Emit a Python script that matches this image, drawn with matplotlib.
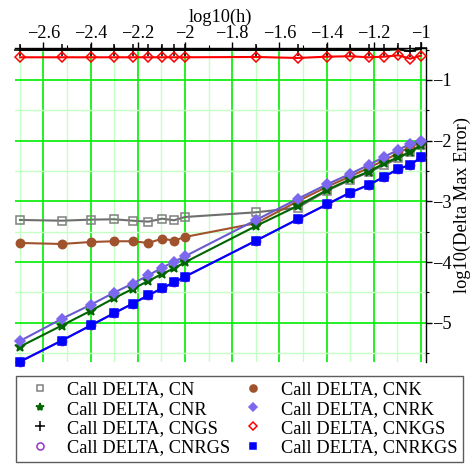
import matplotlib
matplotlib.use('Agg')
from matplotlib import pyplot as plt
from matplotlib.lines import Line2D
from matplotlib.ticker import MultipleLocator, FuncFormatter

plt.rcParams['font.family'] = ['Liberation Serif', 'DejaVu Serif']
plt.rcParams['font.size'] = 13.2

# log10(h)
log_h = [-2.699, -2.523, -2.398, -2.301, -2.222, -2.155, -2.097, -2.046, -2.0,
         -1.699, -1.523, -1.398, -1.301, -1.222, -1.155, -1.097, -1.046, -1.0]

# log10(Delta Max Error) per scheme
cn = [-3.307, -3.319, -3.302, -3.296, -3.319, -3.335, -3.286, -3.312, -3.258,
      -3.181, -3.104, -2.824, -2.648, -2.521, -2.400, -2.290, -2.180, -2.070]
cnk = [-3.686, -3.703, -3.670, -3.658, -3.658, -3.686, -3.615, -3.648, -3.587,
       -3.361, -3.000, -2.760, -2.590, -2.450, -2.320, -2.210, -2.100, -2.030]
cnr = [-5.395, -5.049, -4.802, -4.598, -4.444, -4.312, -4.197, -4.103, -4.004,
       -3.406, -3.076, -2.813, -2.637, -2.511, -2.373, -2.274, -2.192, -2.071]
cnrk = [-5.302, -4.939, -4.703, -4.505, -4.357, -4.219, -4.093, -3.994, -3.906,
        -3.307, -2.961, -2.719, -2.549, -2.401, -2.264, -2.153, -2.054, -2.000]
cngs = [-0.505, -0.505, -0.505, -0.505, -0.505, -0.505, -0.505, -0.505, -0.505,
        -0.505, -0.505, -0.505, -0.505, -0.505, -0.505, -0.495, -0.525, -0.480]
cnkgs = [-0.626, -0.626, -0.626, -0.626, -0.626, -0.626, -0.626, -0.626, -0.626,
         -0.621, -0.637, -0.616, -0.609, -0.626, -0.616, -0.593, -0.649, -0.599]
cnrgs = [-5.643, -5.297, -5.043, -4.845, -4.687, -4.548, -4.433, -4.334, -4.242,
         -3.648, -3.296, -3.049, -2.857, -2.730, -2.593, -2.466, -2.400, -2.274]
cnrkgs = [-5.643, -5.297, -5.043, -4.845, -4.687, -4.548, -4.433, -4.334, -4.242,
          -3.648, -3.296, -3.049, -2.857, -2.730, -2.593, -2.466, -2.400, -2.274]

labels = ['CN', 'CNK', 'CNR', 'CNRK', 'CNGS', 'CNKGS', 'CNRGS', 'CNRKGS']
series = [cn, cnk, cnr, cnrk, cngs, cnkgs, cnrgs, cnrkgs]

# (line colour, marker, marker face, marker edge, marker size)
estilos = [
    ('#6e6e6e', 's', 'none', '#808080', 5.5),
    ('#a0522d', 'o', '#a0522d', '#a0522d', 6),
    ('#006400', '*', '#006400', '#006400', 7),
    ('#6a5acd', 'D', '#7b68ee', '#7b68ee', 5),
    ('#000000', '+', 'none', '#000000', 8),
    ('#ff0000', 'D', 'none', '#ff0000', 5),
    ('#9932cc', 'o', 'none', '#9932cc', 6),
    ('#0000ff', 's', '#0000ff', '#0000ff', 5.5),
]

fig = plt.figure(figsize=(4.70, 4.66), dpi=100)
ax = fig.add_axes([15 / 470, 1 - 362 / 466, 411 / 470, (362 - 47.7) / 466])

handles = {}
for nombre, datos, (col, mk, fc, ec, ms) in zip(labels, series, estilos):
    ax.plot(log_h, datos, '-', color=col, lw=1.5, marker=mk, mfc=fc, mec=ec,
            ms=ms, mew=1.1, zorder=3, clip_on=False)
    handles[nombre] = Line2D([], [], linestyle='none', marker=mk, mfc=fc,
                             mec=ec, ms=ms * 0.85, mew=1.1)

ax.set_xlim(-2.72, -0.979)
ax.set_ylim(-5.648, -0.468)

ax.xaxis.set_major_locator(MultipleLocator(0.2))
ax.xaxis.set_minor_locator(MultipleLocator(0.1))
ax.yaxis.set_major_locator(MultipleLocator(1))
ax.yaxis.set_minor_locator(MultipleLocator(0.5))
fmt = FuncFormatter(lambda v, p: ('%g' % round(v, 2)).replace('-', '\u2212'))
ax.xaxis.set_major_formatter(fmt)
ax.yaxis.set_major_formatter(fmt)

ax.xaxis.tick_top()
ax.yaxis.tick_right()
ax.xaxis.set_label_position('top')
ax.yaxis.set_label_position('right')
ax.tick_params(which='major', length=4, width=1, pad=0)
ax.tick_params(which='minor', length=2.5, width=0.8)

ax.grid(True, which='major', color='#00ee00', lw=1.2, zorder=0)
ax.grid(True, which='minor', color='#c4ffc4', lw=1.0, zorder=0)
ax.set_axisbelow(True)

for lado in ['left', 'bottom']:
    ax.spines[lado].set_visible(False)
for lado in ['top', 'right']:
    ax.spines[lado].set_linewidth(1.0)

ax.set_xlabel('log10(h)', labelpad=2)
ax.set_ylabel('log10(Delta Max Error)', labelpad=2)

orden = ['CN', 'CNR', 'CNGS', 'CNRGS', 'CNK', 'CNRK', 'CNKGS', 'CNRKGS']
leg = fig.legend([handles[n] for n in orden],
                 ['Call DELTA, ' + n for n in orden],
                 loc='upper left', bbox_to_anchor=(16 / 470, 1 - 376 / 466),
                 ncol=2, frameon=True, fancybox=False,
                 edgecolor='#333333', handlelength=2.0, handletextpad=0.5,
                 labelspacing=0.12, borderpad=0.3, columnspacing=0.25,
                 borderaxespad=0)
leg.get_frame().set_linewidth(1.0)

fig.savefig('out.png', dpi=100)
